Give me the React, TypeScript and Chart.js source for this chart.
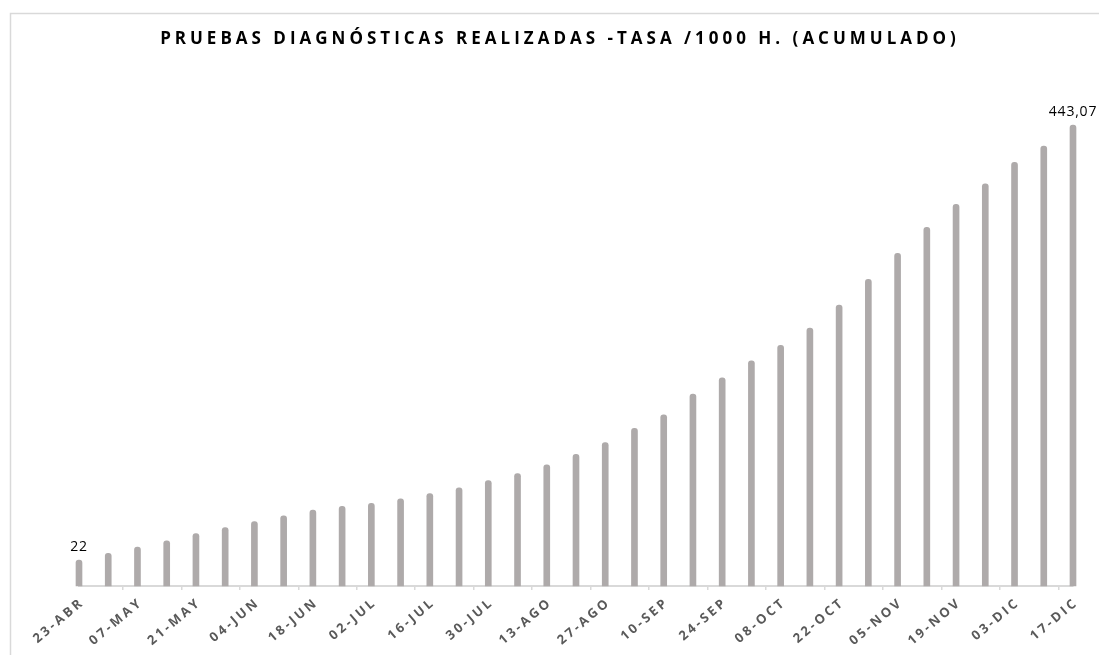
import React, { useEffect, useRef } from "react";
import { Chart, registerables } from "chart.js";

Chart.register(...registerables);

const TITLE = "PRUEBAS DIAGNÓSTICAS REALIZADAS -TASA /1000 H. (ACUMULADO)";

const CATEGORIES = [
  "23-ABR", "30-ABR", "07-MAY", "14-MAY", "21-MAY", "28-MAY", "04-JUN", "11-JUN",
  "18-JUN", "25-JUN", "02-JUL", "09-JUL", "16-JUL", "23-JUL", "30-JUL", "06-AGO",
  "13-AGO", "20-AGO", "27-AGO", "03-SEP", "10-SEP", "17-SEP", "24-SEP", "01-OCT",
  "08-OCT", "15-OCT", "22-OCT", "29-OCT", "05-NOV", "12-NOV", "19-NOV", "26-NOV",
  "03-DIC", "10-DIC", "17-DIC",
];

const TASA = [
  22, 28.5, 34.6, 40.7, 47.8, 53.6, 59.4, 64.9, 70.4, 74.2, 76.9, 81.3, 86.5, 92.0,
  99.1, 105.9, 114.2, 124.3, 135.9, 149.5, 162.6, 182.7, 198.4, 214.9, 229.8, 246.5,
  268.8, 293.7, 318.9, 344.0, 366.3, 386.2, 407.0, 422.7, 443.07,
];

// Only the first and last bars carry a value label
const LABELLED = [0, 34];
const LABEL_TEXT = ["22", "443,07"];

const Y_MIN = -3;
const Y_MAX = 506;

const decorPlugin = {
  id: "decor",
  beforeDraw(chart: any) {
    const ctx = chart.ctx as CanvasRenderingContext2D;
    ctx.save();
    ctx.fillStyle = "#ffffff";
    ctx.fillRect(0, 0, chart.width, chart.height);
    // frame (left and top edges)
    ctx.strokeStyle = "#d9d9d9";
    ctx.lineWidth = 1.5;
    ctx.beginPath();
    ctx.moveTo(10.5, chart.height);
    ctx.lineTo(10.5, 13.5);
    ctx.lineTo(chart.width, 13.5);
    ctx.stroke();
    // title
    (ctx as any).letterSpacing = "4px";
    ctx.fillStyle = "#000000";
    ctx.font = "bold 17px 'Open Sans'";
    ctx.textAlign = "center";
    ctx.textBaseline = "middle";
    ctx.fillText(TITLE, 560, 39);
    ctx.restore();
  },
  afterDraw(chart: any) {
    const ctx = chart.ctx as CanvasRenderingContext2D;
    const meta = chart.getDatasetMeta(0);
    const xs = chart.scales.x;
    // value labels
    ctx.save();
    (ctx as any).letterSpacing = "0.8px";
    ctx.fillStyle = "#000000";
    ctx.font = "14px 'Open Sans'";
    ctx.textAlign = "center";
    ctx.textBaseline = "alphabetic";
    LABELLED.forEach((idx, k) => {
      const el = meta.data[idx];
      ctx.fillText(LABEL_TEXT[k], el.x, el.y - 9);
    });
    ctx.restore();
    // category labels (every other week), rotated
    const ang = (-40 * Math.PI) / 180;
    CATEGORIES.forEach((lab, i) => {
      if (i % 2 !== 0) return;
      const x = xs.getPixelForTick(i);
      ctx.save();
      ctx.translate(x + 1.5, xs.top + 16.5);
      ctx.rotate(ang);
      (ctx as any).letterSpacing = "2.8px";
      ctx.fillStyle = "#595959";
      ctx.font = "bold 13px 'Open Sans'";
      ctx.textAlign = "right";
      ctx.textBaseline = "middle";
      ctx.fillText(lab, 2.8, 0);
      ctx.restore();
    });
  },
};

export default function App() {
  const ref = useRef<HTMLCanvasElement | null>(null);

  useEffect(() => {
    if (!ref.current) return;
    const chart = new Chart(ref.current, {
      type: "bar",
      data: {
        labels: CATEGORIES,
        datasets: [
          {
            data: TASA,
            base: Y_MIN,
            backgroundColor: "#aeaaaa",
            barThickness: 6,
            borderRadius: 3,
            borderSkipped: "start",
            clip: false,
          } as any,
        ],
      },
      options: {
        responsive: false,
        animation: false,
        devicePixelRatio: 1,
        layout: { padding: { left: 79, right: 26, top: 60, bottom: 0 } },
        plugins: {
          legend: { display: false },
          tooltip: { enabled: false },
          title: { display: false },
        },
        scales: {
          x: {
            offset: false,
            afterFit: (scale: any) => {
              scale.height = 69;
            },
            border: { display: true, color: "#d9d9d9", width: 2 },
            grid: {
              drawOnChartArea: false,
              drawTicks: true,
              tickLength: 4,
              color: (c: any) => (c.index % 2 === 0 ? "#d9d9d9" : "rgba(0,0,0,0)"),
              lineWidth: 1.5,
            },
            ticks: {
              display: false,
              autoSkip: false,
            },
          },
          y: {
            display: false,
            min: Y_MIN,
            max: Y_MAX,
          },
        },
      },
      plugins: [decorPlugin],
    });
    return () => chart.destroy();
  }, []);

  return (
    <canvas
      ref={ref}
      width={1099}
      height={655}
      style={{ position: "fixed", left: 0, top: 0, width: 1099, height: 655 }}
    />
  );
}
